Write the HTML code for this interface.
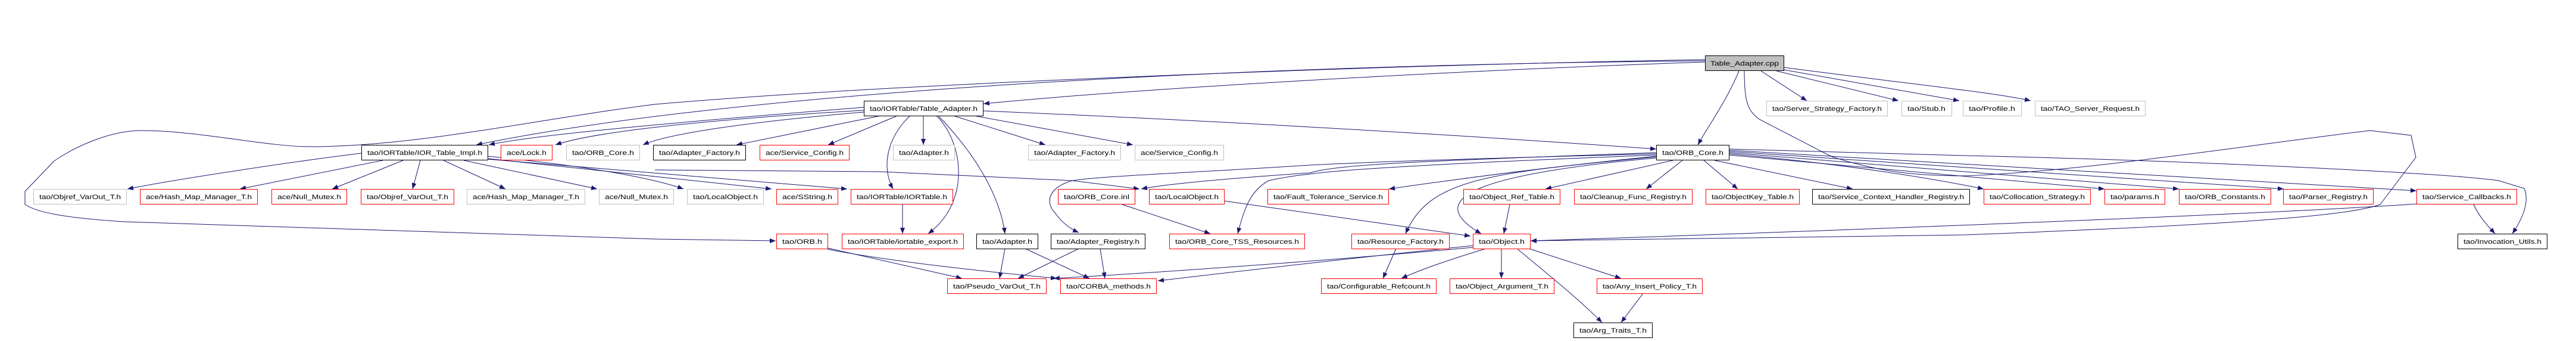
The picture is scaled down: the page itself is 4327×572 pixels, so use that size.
<!DOCTYPE html>
<html><head><meta charset="utf-8"><style>
html,body{margin:0;padding:0;background:#fff;}
svg{display:block;}
text{font-family:"Liberation Sans",sans-serif;font-size:11px;fill:#000;}
.e{fill:none;stroke:#191970;stroke-width:1;}
</style></head><body>
<svg width="4327" height="572" viewBox="0 0 4327 572" xmlns="http://www.w3.org/2000/svg">
<defs><marker id="a" markerUnits="userSpaceOnUse" markerWidth="11" markerHeight="8" refX="10" refY="4" orient="auto"><path d="M0,0 L10,4 L0,8 z" fill="#191970"/></marker></defs>
<g class="e" marker-end="url(#a)">
<path d="M2864,104 C2400,120 1900,150 1652,174"/>
<path d="M2864,102 C2000,110 1200,160 800,243"/>
<path d="M1451,180 C1200,200 900,225 821,243"/>
<path d="M1451,185 C1200,200 1000,220 933,243"/>
<path d="M1451,188 C1250,205 1120,225 1080,243"/>
<path d="M2864,100 C2300,110 1500,140 1100,175 C900,200 700,246 519,246 C450,246 330,219 238,219 C180,219 120,250 91,270 L42,321 L42,343 C60,355 100,365 210,372 L1100,401 L1303,404"/>
<path d="M1485,193 C1400,210 1300,230 1237,243"/>
<path d="M1510,193 L1391,243"/>
<path d="M1551,193 L1551,243"/>
<path d="M1598,193 L1756,243"/>
<path d="M1630,193 L1903,243"/>
<path d="M1530,193 C1490,230 1480,280 1500,317"/>
<path d="M1572,193 C1620,240 1630,340 1559,392"/>
<path d="M1575,193 C1640,260 1680,330 1688,392"/>
<path d="M1652,186 C2100,205 2500,230 2782,250"/>
<path d="M2921,119 C2900,170 2870,210 2852,243"/>
<path d="M2958,119 L3035,169"/>
<path d="M2984,119 L3189,169"/>
<path d="M2996,117 L3291,169"/>
<path d="M2996,113 C3200,140 3350,155 3411,169"/>
<path d="M2930,119 C2930,170 2935,185 2955,200 L3077,263 C3150,285 3200,295 3300,295 C3500,288 3800,240 3981,219 L4050,227 L4058,264 L3998,343 C3950,360 3800,375 3300,394 L2571,404"/>
<path d="M2904,250 L3300,261 C3700,270 4100,290 4197,303 L4240,316 C4250,340 4235,370 4220,392"/>
<path d="M2880,269 L3112,317"/>
<path d="M2904,258 C3100,275 3250,300 3332,317"/>
<path d="M2904,260 L3535,317"/>
<path d="M2904,256 L3660,317"/>
<path d="M2904,254 L3836,317"/>
<path d="M2904,252 L4059,320"/>
<path d="M2782,262 C2600,280 2450,300 2333,317"/>
<path d="M2810,269 L2596,317"/>
<path d="M2826,269 L2765,317"/>
<path d="M2862,269 L2919,317"/>
<path d="M2782,263 C2500,290 2400,300 2361,392"/>
<path d="M2782,265 C2500,290 2380,330 2488,392"/>
<path d="M2782,258 C2400,268 2300,272 2200,277 C2000,290 1850,295 1801,303 C1760,315 1755,340 1773,358 C1785,375 1800,385 1812,390"/>
<path d="M2782,260 C2400,275 2250,285 2200,292 C2160,296 2131,303 2131,303 C2100,320 2090,350 2079,392"/>
<path d="M2782,256 C2400,270 2250,275 2200,290 C2050,300 1950,310 1917,317"/>
<path d="M1100,285 L1479,288 L1801,303 L1914,317"/>
<path d="M819,262 C1000,280 1100,300 1148,317"/>
<path d="M819,266 L1296,317"/>
<path d="M819,267 L1423,317"/>
<path d="M607,257 C500,270 300,300 214,317"/>
<path d="M643,269 L403,317"/>
<path d="M677,269 L558,317"/>
<path d="M706,269 L693,317"/>
<path d="M745,269 L849,317"/>
<path d="M779,269 L1003,317"/>
<path d="M1516,343 L1516,392"/>
<path d="M1390,416 L1616,467"/>
<path d="M1390,418 C1500,440 1700,460 1775,467"/>
<path d="M1688,417 L1679,467"/>
<path d="M1722,417 L1830,467"/>
<path d="M1812,417 L1710,467"/>
<path d="M1848,417 L1856,467"/>
<path d="M1885,343 L2033,392"/>
<path d="M2056,337 L2470,396"/>
<path d="M2536,343 L2526,392"/>
<path d="M4155,343 C4165,365 4180,380 4191,392"/>
<path d="M4060,342 C3800,360 3000,390 2571,404"/>
<path d="M2496,417 C2420,440 2380,455 2354,467"/>
<path d="M2522,417 L2522,467"/>
<path d="M2568,417 L2723,467"/>
<path d="M2548,417 C2600,460 2650,500 2691,541"/>
<path d="M2474,415 C2200,440 1900,460 1770,467"/>
<path d="M2474,412 C2200,440 2000,465 1945,471"/>
<path d="M2345,417 L2323,467"/>
<path d="M2760,492 L2723,541"/>
</g>
<g fill="#fff" stroke-width="1">
<rect x="2864.5" y="93.5" width="132" height="25" fill="#bfbfbf" stroke="#000"/><text x="2873" y="110" textLength="115" lengthAdjust="spacingAndGlyphs">Table_Adapter.cpp</text>
<rect x="1451.5" y="169.5" width="200" height="25" stroke="#000"/><text x="1461" y="186" textLength="181" lengthAdjust="spacingAndGlyphs">tao/IORTable/Table_Adapter.h</text>
<rect x="2967.5" y="169.5" width="203" height="25" stroke="#bfbfbf"/><text x="2977" y="186" textLength="184" lengthAdjust="spacingAndGlyphs">tao/Server_Strategy_Factory.h</text>
<rect x="3194.5" y="169.5" width="84" height="25" stroke="#bfbfbf"/><text x="3204" y="186" textLength="64" lengthAdjust="spacingAndGlyphs">tao/Stub.h</text>
<rect x="3297.5" y="169.5" width="98" height="25" stroke="#bfbfbf"/><text x="3307" y="186" textLength="78" lengthAdjust="spacingAndGlyphs">tao/Profile.h</text>
<rect x="3418.5" y="169.5" width="185" height="25" stroke="#bfbfbf"/><text x="3428" y="186" textLength="166" lengthAdjust="spacingAndGlyphs">tao/TAO_Server_Request.h</text>
<rect x="607.5" y="243.5" width="212" height="25" stroke="#000"/><text x="617" y="260" textLength="193" lengthAdjust="spacingAndGlyphs">tao/IORTable/IOR_Table_Impl.h</text>
<rect x="841.5" y="243.5" width="86" height="25" stroke="#f00"/><text x="851" y="260" textLength="67" lengthAdjust="spacingAndGlyphs">ace/Lock.h</text>
<rect x="951.5" y="243.5" width="123" height="25" stroke="#bfbfbf"/><text x="961" y="260" textLength="104" lengthAdjust="spacingAndGlyphs">tao/ORB_Core.h</text>
<rect x="1097.5" y="243.5" width="155" height="25" stroke="#000"/><text x="1107" y="260" textLength="136" lengthAdjust="spacingAndGlyphs">tao/Adapter_Factory.h</text>
<rect x="1276.5" y="243.5" width="150" height="25" stroke="#f00"/><text x="1286" y="260" textLength="131" lengthAdjust="spacingAndGlyphs">ace/Service_Config.h</text>
<rect x="1500.5" y="243.5" width="103" height="25" stroke="#bfbfbf"/><text x="1510" y="260" textLength="84" lengthAdjust="spacingAndGlyphs">tao/Adapter.h</text>
<rect x="1727.5" y="243.5" width="155" height="25" stroke="#bfbfbf"/><text x="1737" y="260" textLength="136" lengthAdjust="spacingAndGlyphs">tao/Adapter_Factory.h</text>
<rect x="1906.5" y="243.5" width="149" height="25" stroke="#bfbfbf"/><text x="1916" y="260" textLength="130" lengthAdjust="spacingAndGlyphs">ace/Service_Config.h</text>
<rect x="2782.5" y="243.5" width="122" height="25" stroke="#000"/><text x="2792" y="260" textLength="103" lengthAdjust="spacingAndGlyphs">tao/ORB_Core.h</text>
<rect x="56.5" y="317.5" width="156" height="25" stroke="#bfbfbf"/><text x="66" y="334" textLength="137" lengthAdjust="spacingAndGlyphs">tao/Objref_VarOut_T.h</text>
<rect x="235.5" y="317.5" width="197" height="25" stroke="#f00"/><text x="245" y="334" textLength="178" lengthAdjust="spacingAndGlyphs">ace/Hash_Map_Manager_T.h</text>
<rect x="456.5" y="317.5" width="126" height="25" stroke="#f00"/><text x="466" y="334" textLength="107" lengthAdjust="spacingAndGlyphs">ace/Null_Mutex.h</text>
<rect x="606.5" y="317.5" width="156" height="25" stroke="#f00"/><text x="616" y="334" textLength="137" lengthAdjust="spacingAndGlyphs">tao/Objref_VarOut_T.h</text>
<rect x="784.5" y="317.5" width="198" height="25" stroke="#bfbfbf"/><text x="794" y="334" textLength="179" lengthAdjust="spacingAndGlyphs">ace/Hash_Map_Manager_T.h</text>
<rect x="1006.5" y="317.5" width="125" height="25" stroke="#bfbfbf"/><text x="1016" y="334" textLength="106" lengthAdjust="spacingAndGlyphs">ace/Null_Mutex.h</text>
<rect x="1154.5" y="317.5" width="128" height="25" stroke="#bfbfbf"/><text x="1164" y="334" textLength="109" lengthAdjust="spacingAndGlyphs">tao/LocalObject.h</text>
<rect x="1304.5" y="317.5" width="103" height="25" stroke="#f00"/><text x="1314" y="334" textLength="84" lengthAdjust="spacingAndGlyphs">ace/SString.h</text>
<rect x="1429.5" y="317.5" width="171" height="25" stroke="#f00"/><text x="1439" y="334" textLength="152" lengthAdjust="spacingAndGlyphs">tao/IORTable/IORTable.h</text>
<rect x="1777.5" y="317.5" width="129" height="25" stroke="#f00"/><text x="1787" y="334" textLength="110" lengthAdjust="spacingAndGlyphs">tao/ORB_Core.inl</text>
<rect x="1930.5" y="317.5" width="126" height="25" stroke="#f00"/><text x="1940" y="334" textLength="107" lengthAdjust="spacingAndGlyphs">tao/LocalObject.h</text>
<rect x="2129.5" y="317.5" width="203" height="25" stroke="#f00"/><text x="2139" y="334" textLength="184" lengthAdjust="spacingAndGlyphs">tao/Fault_Tolerance_Service.h</text>
<rect x="2458.5" y="317.5" width="162" height="25" stroke="#f00"/><text x="2468" y="334" textLength="143" lengthAdjust="spacingAndGlyphs">tao/Object_Ref_Table.h</text>
<rect x="2644.5" y="317.5" width="198" height="25" stroke="#f00"/><text x="2654" y="334" textLength="179" lengthAdjust="spacingAndGlyphs">tao/Cleanup_Func_Registry.h</text>
<rect x="2865.5" y="317.5" width="157" height="25" stroke="#f00"/><text x="2875" y="334" textLength="138" lengthAdjust="spacingAndGlyphs">tao/ObjectKey_Table.h</text>
<rect x="3044.5" y="317.5" width="264" height="25" stroke="#000"/><text x="3054" y="334" textLength="245" lengthAdjust="spacingAndGlyphs">tao/Service_Context_Handler_Registry.h</text>
<rect x="3332.5" y="317.5" width="179" height="25" stroke="#f00"/><text x="3342" y="334" textLength="160" lengthAdjust="spacingAndGlyphs">tao/Collocation_Strategy.h</text>
<rect x="3535.5" y="317.5" width="101" height="25" stroke="#f00"/><text x="3545" y="334" textLength="82" lengthAdjust="spacingAndGlyphs">tao/params.h</text>
<rect x="3660.5" y="317.5" width="154" height="25" stroke="#f00"/><text x="3670" y="334" textLength="135" lengthAdjust="spacingAndGlyphs">tao/ORB_Constants.h</text>
<rect x="3835.5" y="317.5" width="151" height="25" stroke="#f00"/><text x="3845" y="334" textLength="132" lengthAdjust="spacingAndGlyphs">tao/Parser_Registry.h</text>
<rect x="4059.5" y="317.5" width="168" height="25" stroke="#f00"/><text x="4069" y="334" textLength="149" lengthAdjust="spacingAndGlyphs">tao/Service_Callbacks.h</text>
<rect x="1304.5" y="392.5" width="86" height="25" stroke="#f00"/><text x="1314" y="409" textLength="67" lengthAdjust="spacingAndGlyphs">tao/ORB.h</text>
<rect x="1414.5" y="392.5" width="204" height="25" stroke="#f00"/><text x="1424" y="409" textLength="185" lengthAdjust="spacingAndGlyphs">tao/IORTable/iortable_export.h</text>
<rect x="1640.5" y="392.5" width="103" height="25" stroke="#000"/><text x="1650" y="409" textLength="84" lengthAdjust="spacingAndGlyphs">tao/Adapter.h</text>
<rect x="1765.5" y="392.5" width="158" height="25" stroke="#000"/><text x="1775" y="409" textLength="139" lengthAdjust="spacingAndGlyphs">tao/Adapter_Registry.h</text>
<rect x="1964.5" y="392.5" width="227" height="25" stroke="#f00"/><text x="1974" y="409" textLength="208" lengthAdjust="spacingAndGlyphs">tao/ORB_Core_TSS_Resources.h</text>
<rect x="2270.5" y="392.5" width="164" height="25" stroke="#f00"/><text x="2280" y="409" textLength="145" lengthAdjust="spacingAndGlyphs">tao/Resource_Factory.h</text>
<rect x="2474.5" y="392.5" width="96" height="25" stroke="#f00"/><text x="2484" y="409" textLength="77" lengthAdjust="spacingAndGlyphs">tao/Object.h</text>
<rect x="4128.5" y="392.5" width="150" height="25" stroke="#000"/><text x="4138" y="409" textLength="131" lengthAdjust="spacingAndGlyphs">tao/Invocation_Utils.h</text>
<rect x="1591.5" y="467.5" width="166" height="25" stroke="#f00"/><text x="1601" y="484" textLength="147" lengthAdjust="spacingAndGlyphs">tao/Pseudo_VarOut_T.h</text>
<rect x="1781.5" y="467.5" width="161" height="25" stroke="#f00"/><text x="1791" y="484" textLength="142" lengthAdjust="spacingAndGlyphs">tao/CORBA_methods.h</text>
<rect x="2219.5" y="467.5" width="193" height="25" stroke="#f00"/><text x="2229" y="484" textLength="174" lengthAdjust="spacingAndGlyphs">tao/Configurable_Refcount.h</text>
<rect x="2435.5" y="467.5" width="175" height="25" stroke="#f00"/><text x="2445" y="484" textLength="156" lengthAdjust="spacingAndGlyphs">tao/Object_Argument_T.h</text>
<rect x="2682.5" y="467.5" width="177" height="25" stroke="#f00"/><text x="2692" y="484" textLength="158" lengthAdjust="spacingAndGlyphs">tao/Any_Insert_Policy_T.h</text>
<rect x="2643.5" y="541.5" width="132" height="25" stroke="#000"/><text x="2653" y="558" textLength="113" lengthAdjust="spacingAndGlyphs">tao/Arg_Traits_T.h</text>
</g>
</svg>
</body></html>
